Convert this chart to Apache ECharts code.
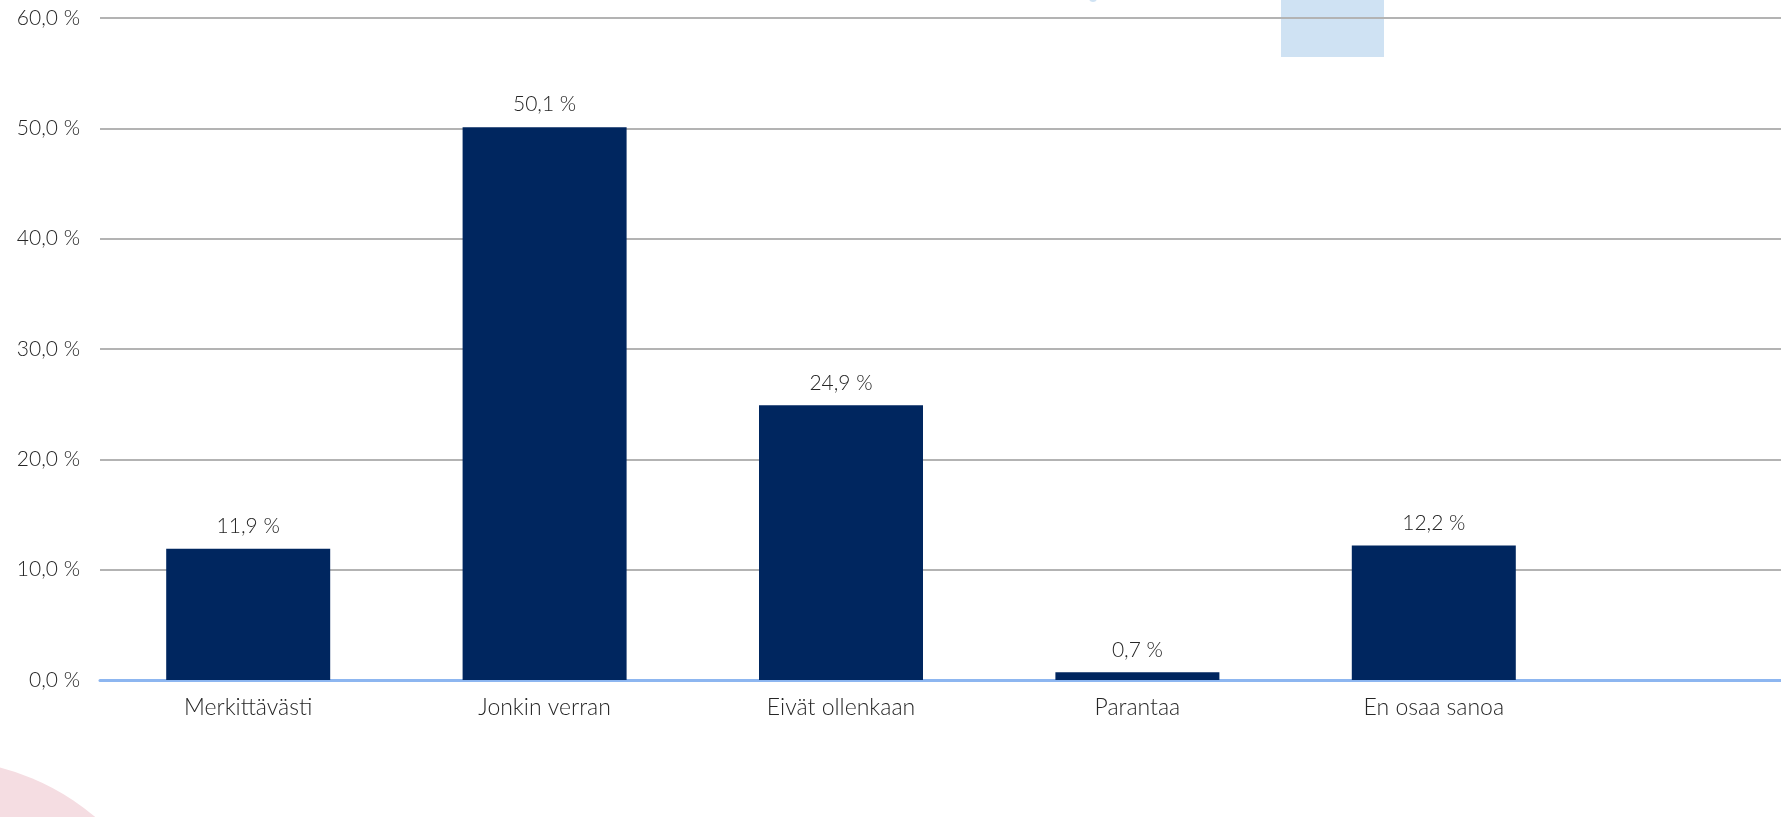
<!DOCTYPE html>
<html><head><meta charset="utf-8">
<script src="https://cdn.jsdelivr.net/npm/echarts@6/dist/echarts.min.js"></script>
<style>html,body{margin:0;padding:0;background:#fff}#c{width:1781px;height:817px}</style>
</head><body><div id="c"></div>
<script>
const categories = ["Merkittävästi", "Jonkin verran", "Eivät ollenkaan", "Parantaa", "En osaa sanoa"];
const values = [11.9, 50.1, 24.9, 0.7, 12.2];
const yTicks = [0, 10, 20, 30, 40, 50, 60];

const fmt = v => v.toFixed(1).replace('.', ',') + ' %';
const font = 'Lato';
const chart = echarts.init(document.getElementById('c'));
chart.setOption({
  animation: false,
  graphic: [
    { type: 'circle', z: -10, shape: { cx: -60, cy: 1000, r: 240 }, style: { fill: '#F5DDE2' } },
    { type: 'rect', z: -10, shape: { x: 1281, y: 0, width: 103, height: 57 }, style: { fill: '#CFE2F3' } },
    { type: 'circle', z: -10, shape: { cx: 1093, cy: -2, r: 4 }, style: { fill: '#CFE2F3' } }
  ],
  grid: [
    { left: 100, right: 0, top: 18, bottom: 137 },
    { left: 100, right: 199, top: 18, bottom: 137 }
  ],
  xAxis: [
    { gridIndex: 0, type: 'category', data: [''], axisTick: { show: false }, axisLabel: { show: false },
      axisLine: { show: true, lineStyle: { color: '#8DB6F0', width: 3 } } },
    { gridIndex: 1, type: 'category', data: categories, axisTick: { show: false },
      axisLine: { show: false },
      axisLabel: { margin: 16, fontFamily: font, fontWeight: 300, fontSize: 23, color: '#262626' } }
  ],
  yAxis: [
    { gridIndex: 0, type: 'value', min: yTicks[0], max: yTicks[yTicks.length - 1], interval: 10,
      axisLine: { show: false }, axisTick: { show: false },
      splitLine: { lineStyle: { color: '#B3B3B3', width: 2 } },
      axisLabel: { formatter: fmt, margin: 20, fontFamily: font, fontWeight: 300, fontSize: 21, color: '#262626' } },
    { gridIndex: 1, type: 'value', min: yTicks[0], max: yTicks[yTicks.length - 1], interval: 10,
      show: false, splitLine: { show: false } }
  ],
  series: [{
    type: 'bar', xAxisIndex: 1, yAxisIndex: 1, data: values, barWidth: 164,
    itemStyle: { color: '#00265F' },
    label: { show: true, position: 'top', distance: 12, formatter: p => fmt(p.value),
      fontFamily: font, fontWeight: 300, fontSize: 21, color: '#262626' }
  }]
});
</script></body></html>
